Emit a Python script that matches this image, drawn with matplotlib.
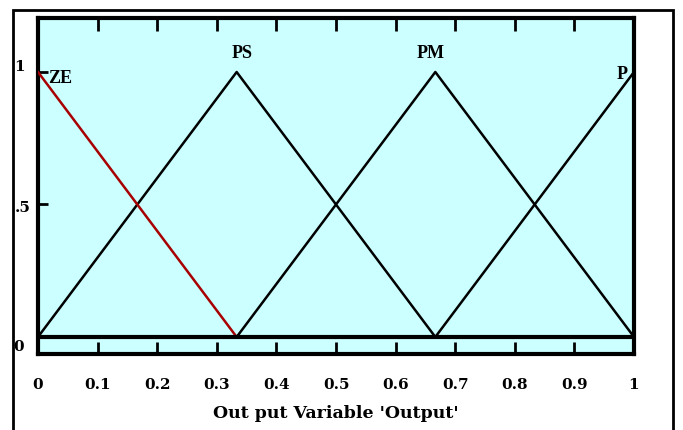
import matplotlib
matplotlib.use("Agg")
import matplotlib.pyplot as plt
from matplotlib.patches import Rectangle
import matplotlib.transforms as mtransforms

# Membership functions (triangles) of output variable
mf_names = ["ZE", "PS", "PM", "P"]
mf_x = [[-1/3, 0.0, 1/3], [0.0, 1/3, 2/3], [1/3, 2/3, 1.0], [2/3, 1.0, 4/3]]
mf_y = [0.0, 1.0, 0.0]
highlight = "ZE"
x_ticks = [0, 0.1, 0.2, 0.3, 0.4, 0.5, 0.6, 0.7, 0.8, 0.9, 1]
x_tick_labels = ["0", "0.1", "0.2", "0.3", "0.4", "0.5", "0.6", "0.7", "0.8", "0.9", "1"]
y_ticks = [0, 0.5, 1]
y_tick_labels = ["0", ".5", "1"]
x_label = "Out put Variable 'Output'"

W, H = 683, 430
fig = plt.figure(figsize=(W / 100, H / 100), dpi=100)
fig.patch.set_facecolor("white")

# outer frame
fig.patches.append(Rectangle((13 / W, -0.05), 660 / W, (430 - 10) / H + 0.05,
                             transform=fig.transFigure, fill=False,
                             edgecolor="black", linewidth=2))

ax = fig.add_axes([38 / W, (H - 354) / H, 596 / W, 336 / H])
ax.set_facecolor("#CCFFFF")
ax.set_xlim(0, 1)
ax.set_ylim(-0.0642, 1.2038)

lab_font = dict(family="Liberation Serif", weight="bold")
tick_font = dict(family="DejaVu Serif", weight="bold")

for name, xs in zip(mf_names, mf_x):
    color = "#A80000" if name == highlight else "black"
    ax.plot(xs, mf_y, color=color, linewidth=1.8, clip_on=True, zorder=3 if name == highlight else 2)

ax.axhline(0, color="black", linewidth=3, zorder=4)

# MF labels
ax.text(0.017, 0.977, "ZE", ha="left", va="center", fontsize=13, **lab_font)
ax.text(1/3 + 0.01, 1.068, "PS", ha="center", va="center", fontsize=13, **lab_font)
ax.text(2/3 - 0.008, 1.068, "PM", ha="center", va="center", fontsize=13, **lab_font)
ax.text(0.98, 0.99, "P", ha="center", va="center", fontsize=13, clip_on=True, **lab_font)

for s in ax.spines.values():
    s.set_linewidth(3)

ax.set_xticks(x_ticks)
ax.set_xticklabels(x_tick_labels, fontsize=11, **tick_font)
ax.tick_params(axis="x", direction="in", length=9, width=2, pad=17, top=True, bottom=True)
ax.set_yticks(y_ticks)
ax.set_yticklabels([])
ax.tick_params(axis="y", direction="in", length=7, width=2, left=True, right=False)

blend = mtransforms.blended_transform_factory(fig.transFigure, ax.transData)
ypos = {"0": (19, -10), ".5": (23, -4), "1": (20, 5)}
for v, lab in zip(y_ticks, y_tick_labels):
    px, dy = ypos[lab]
    t = mtransforms.offset_copy(blend, fig=fig, x=0, y=dy, units="dots")
    ax.text(px / W, v, lab, transform=t, ha="center", va="center",
            fontsize=11, clip_on=False, **tick_font)

ax.set_xlabel(x_label, fontsize=12.5, labelpad=10, **tick_font)

fig.savefig("out.png", dpi=100)
